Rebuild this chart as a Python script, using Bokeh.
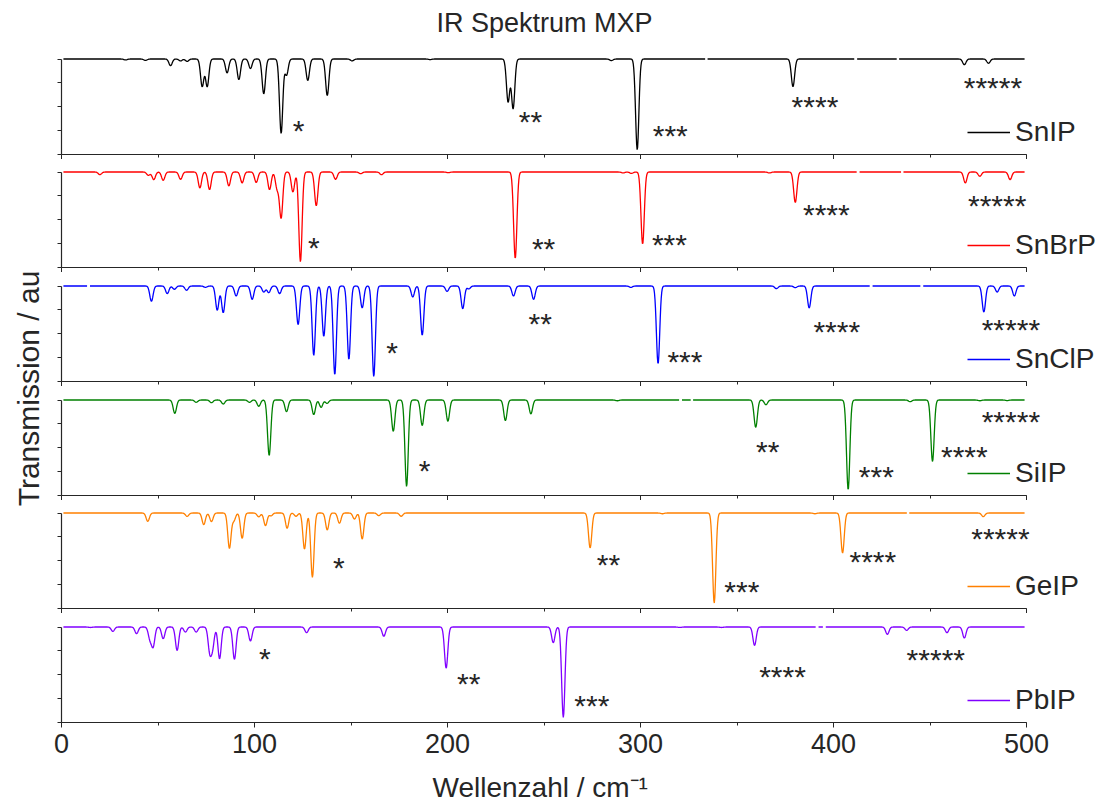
import numpy as np
from bokeh.plotting import figure
from bokeh.models import (Range1d, FixedTicker, SingleIntervalTicker, Legend, LegendItem, Label,
                          CustomJSTickFormatter, Title)
from bokeh.layouts import column, row
from bokeh.embed import file_html
from bokeh.resources import INLINE

# ---------------- data ----------------
names = ["SnIP", "SnBrP", "SnClP", "SiIP", "GeIP", "PbIP"]
colors = ["#000000", "#ff0000", "#0000ff", "#008000", "#ff8000", "#8000ff"]

# band positions (cm-1) and relative band depths (transmission drop)
snip_pos = [33.2, 43.5, 56.5, 61.7, 65.1, 72.9, 75.5, 85.8, 91.9, 97.9, 104.8, 113.8, 116.6,
            127.6, 137.7, 150.6, 191.0, 231.4, 234.0, 284.9, 298.3, 379.0, 467.8, 480.3]
snip_dep = [0.01, 0.015, 0.07, 0.02, 0.025, 0.29, 0.29, 0.146, 0.216, 0.10, 0.366, 0.78, 0.17,
            0.226, 0.383, 0.02, 0.006, 0.45, 0.52, 0.017, 0.95, 0.29, 0.06, 0.045]
snip_gaps = [334.1, 411.5, 433.4]

snbrp_pos = [19.9, 45.0, 47.8, 52.7, 61.7, 71.7, 76.7, 86.7, 93.6, 100.9, 107.8, 111.7, 113.8,
             119.9, 123.8, 132.0, 142.0, 155.0, 165.8, 200.4, 235.1, 291.0, 295.3, 301.1, 366.8,
             380.2, 468.3, 475.8, 491.5]
snbrp_dep = [0.028, 0.035, 0.08, 0.087, 0.077, 0.167, 0.185, 0.146, 0.115, 0.11, 0.185, 0.17, 0.48,
             0.21, 0.94, 0.355, 0.077, 0.017, 0.028, 0.007, 0.906, 0.01, 0.015, 0.756, 0.01,
             0.32, 0.115, 0.045, 0.08]
snbrp_gaps = [412.7, 435.6]

snclp_pos = [46.6, 54.8, 58.5, 64.8, 74.6, 80.7, 83.8, 90.5, 98.8, 104.8, 107.4, 113.0, 122.6,
             130.7, 135.9, 141.6, 148.9, 155.8, 161.8, 182.0, 186.9, 199.8, 207.9, 211.0, 234.2,
             244.6, 295.0, 309.1, 370.4, 380.2, 387.4, 477.9, 484.8, 493.7]
snclp_dep = [0.16, 0.08, 0.035, 0.045, 0.014, 0.255, 0.28, 0.105, 0.14, 0.063, 0.07, 0.08, 0.405,
             0.727, 0.528, 0.93, 0.77, 0.23, 0.948, 0.115, 0.517, 0.056, 0.238, 0.03, 0.105,
             0.14, 0.014, 0.815, 0.028, 0.017, 0.23, 0.273, 0.063, 0.105]
snclp_gaps = [14.1, 419.5, 445.8]

siip_pos = [58.7, 69.8, 77.7, 83.8, 97.4, 102.2, 107.6, 116.6, 130.7, 134.5, 137.6, 171.9, 178.8,
            186.9, 200.2, 230.0, 243.2, 288.0, 359.7, 365.0, 407.6, 439.7, 451.3, 475.8, 490.0]
siip_dep = [0.14, 0.024, 0.028, 0.042, 0.024, 0.066, 0.582, 0.122, 0.153, 0.077, 0.035, 0.328, 0.906,
            0.268, 0.223, 0.216, 0.146, 0.008, 0.286, 0.05, 0.94, 0.018, 0.645, 0.008, 0.006]
siip_gaps = [320.7, 326.6]

geip_pos = [44.7, 65.1, 73.7, 77.7, 87.0, 89.3, 93.6, 102.2, 105.7, 108.5, 116.9, 121.5, 125.9,
            130.0, 137.7, 144.0, 151.8, 155.8, 164.4, 176.0, 273.9, 311.4, 338.2, 390.4, 404.7, 477.6]
geip_dep = [0.087, 0.035, 0.122, 0.09, 0.37, 0.08, 0.266, 0.04, 0.133, 0.03, 0.16, 0.035, 0.378,
            0.675, 0.178, 0.108, 0.063, 0.273, 0.028, 0.035, 0.367, 0.008, 0.944, 0.008, 0.42, 0.038]
geip_gaps = [438.6]

pbip_pos = [15.0, 26.6, 38.9, 45.8, 47.5, 52.7, 59.9, 64.2, 69.8, 76.8, 78.3, 81.9, 89.6, 97.9,
            127.0, 167.0, 199.3, 254.8, 260.0, 320.4, 342.0, 359.1, 427.9, 437.9, 458.8, 467.8]
pbip_dep = [0.005, 0.046, 0.07, 0.12, 0.2, 0.123, 0.246, 0.053, 0.053, 0.25, 0.2, 0.333, 0.34, 0.147,
            0.06, 0.098, 0.432, 0.165, 0.947, 0.005, 0.005, 0.193, 0.077, 0.035, 0.06, 0.116]
pbip_gaps = [391.5, 395.3]

# band marker annotations (x in cm-1, y in panel units, text)
snip_ann_x = [122.9, 243.0, 315.4, 390.4, 482.6]
snip_ann_y = [0.26, 0.36, 0.21, 0.51, 0.71]
snbrp_ann_x = [130.7, 249.8, 315.0, 396.3, 484.8]
snbrp_ann_y = [0.22, 0.21, 0.25, 0.565, 0.66]
snclp_ann_x = [171.3, 248.0, 323.0, 401.7, 491.9]
snclp_ann_y = [0.315, 0.62, 0.22, 0.535, 0.55]
siip_ann_x = [188.1, 365.9, 422.2, 467.8, 491.9]
siip_ann_y = [0.27, 0.47, 0.21, 0.42, 0.79]
geip_ann_x = [143.7, 283.4, 352.5, 420.4, 486.5]
geip_ann_y = [0.44, 0.475, 0.19, 0.50, 0.74]
pbip_ann_x = [105.4, 211.0, 274.8, 373.6, 453.0]
pbip_ann_y = [0.684, 0.42, 0.19, 0.49, 0.67]
ann_text = ["*", "**", "***", "****", "*****"]

y_ticks = [0, 0.25, 0.5, 0.75, 1.0]
x_min, x_max = 0, 500

positions = [snip_pos, snbrp_pos, snclp_pos, siip_pos, geip_pos, pbip_pos]
depths = [snip_dep, snbrp_dep, snclp_dep, siip_dep, geip_dep, pbip_dep]
gaps = [snip_gaps, snbrp_gaps, snclp_gaps, siip_gaps, geip_gaps, pbip_gaps]
ann_xs = [snip_ann_x, snbrp_ann_x, snclp_ann_x, siip_ann_x, geip_ann_x, pbip_ann_x]
ann_ys = [snip_ann_y, snbrp_ann_y, snclp_ann_y, siip_ann_y, geip_ann_y, pbip_ann_y]

# ---------------- styling / layout ----------------
FONT = "Liberation Sans"
TXT = "#262626"
AXC = "#262626"
SIG = 0.85
PXU = 95.5          # pixels per panel unit
B = 5               # x-axis border (tick length)
AXIS_W = 965        # pixel length of the 0..500 axis
FRAME_W = 1041      # frame extends to the right edge so legends are not clipped
LEFT = 12
YLAB_W = 49
axis_pos = [154, 267, 381, 495, 608, 722]
TOTAL_H = 812
x_end = x_max * FRAME_W / AXIS_W
ASTER_SHIFT = 1.0   # px


def build_spectrum(pos, dep, gp):
    x = np.arange(1.0, 499.01, 0.25)
    y = np.ones_like(x)
    for p, d in zip(pos, dep):
        y = y - d * np.exp(-0.5 * ((x - p) / SIG) ** 2)
    for g in gp:
        y[np.abs(x - g) < 0.6] = np.nan
    return x, y


blank = CustomJSTickFormatter(code="return ''")

figs = []
for i in range(6):
    if i == 0:
        frame_top = axis_pos[0] - 114
        top_border = frame_top
    else:
        frame_top = axis_pos[i - 1] + B
        top_border = 0
    fh = axis_pos[i] - frame_top
    bottom_border = B if i < 5 else TOTAL_H - axis_pos[5]
    p = figure(frame_width=FRAME_W, frame_height=fh,
               x_range=Range1d(0, x_end), y_range=Range1d(0, fh / PXU),
               min_border_left=LEFT, min_border_right=0,
               min_border_top=top_border, min_border_bottom=bottom_border,
               toolbar_location=None, output_backend="svg",
               background_fill_color="white", border_fill_color="white")
    p.outline_line_color = None
    p.grid.visible = False

    x, y = build_spectrum(positions[i], depths[i], gaps[i])
    r = p.line(x, y, line_color=colors[i], line_width=1.3)

    # x axis
    xa = p.xaxis[0]
    xa.ticker = SingleIntervalTicker(interval=100, num_minor_ticks=2)
    xa.bounds = (x_min, x_max)
    xa.axis_line_color = AXC
    xa.axis_line_width = 1.2
    xa.major_tick_line_color = AXC
    xa.minor_tick_line_color = AXC
    xa.major_tick_in = 0
    xa.major_tick_out = 5
    xa.minor_tick_in = 0
    xa.minor_tick_out = 3
    if i < 5:
        xa.formatter = blank
        xa.major_label_standoff = 0
    else:
        xa.major_label_text_font_size = "27px"
        xa.major_label_text_font = FONT
        xa.major_label_text_color = TXT
        xa.major_label_standoff = 6
        p.add_layout(Title(text="Wellenzahl / cm\u207b\u00b9", align="left", offset=371,
                           text_font=FONT, text_font_size="28px", text_font_style="normal",
                           text_color=TXT, standoff=29), "below")

    # y axis
    ya = p.yaxis[0]
    ya.ticker = FixedTicker(ticks=y_ticks)
    ya.bounds = (0, 1)
    ya.axis_line_color = AXC
    ya.axis_line_width = 1.2
    ya.major_tick_line_color = AXC
    ya.major_tick_in = 0
    ya.major_tick_out = 4
    ya.minor_tick_in = 0
    ya.minor_tick_out = 0
    ya.formatter = blank
    ya.major_label_standoff = 0

    # band markers
    for ax_, ay_, t in zip(ann_xs[i], ann_ys[i], ann_text):
        p.add_layout(Label(x=ax_, y=ay_ - ASTER_SHIFT / PXU, text=t, text_align="center",
                           text_baseline="middle", text_font=FONT, text_font_size="30px",
                           text_color=TXT))

    leg = Legend(items=[LegendItem(label=names[i], renderers=[r])],
                 location=(906, 6), padding=0, margin=0, spacing=0,
                 glyph_width=43, glyph_height=20, label_standoff=5,
                 label_text_font=FONT, label_text_font_size="28px", label_text_color=TXT,
                 background_fill_alpha=0, border_line_alpha=0)
    p.add_layout(leg)

    if i == 0:
        p.title.text = "IR Spektrum MXP"
        p.title.align = "left"
        p.title.offset = 375
        p.title.text_font = FONT
        p.title.text_font_size = "27px"
        p.title.text_font_style = "normal"
        p.title.text_color = TXT
        p.title.standoff = 5
    figs.append(p)

ylab = figure(width=YLAB_W, height=TOTAL_H, x_range=Range1d(0, YLAB_W), y_range=Range1d(TOTAL_H, 0),
              min_border=0, toolbar_location=None, output_backend="svg")
ylab.axis.visible = False
ylab.grid.visible = False
ylab.outline_line_color = None
ylab.add_layout(Label(x=28, y=388, text="Transmission / au", angle=np.pi / 2,
                      text_align="center", text_baseline="middle", text_font=FONT,
                      text_font_size="30px", text_color=TXT))

layout = row(ylab, column(*figs, spacing=0), spacing=0)
open("out.html", "w").write(file_html(layout, INLINE))
